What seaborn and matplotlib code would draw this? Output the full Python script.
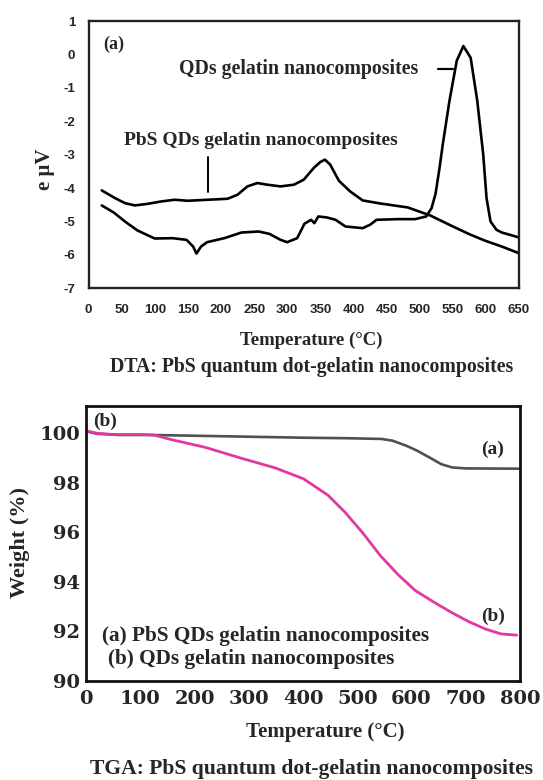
import matplotlib
matplotlib.use("Agg")
import matplotlib.pyplot as plt
import seaborn as sns
import pandas as pd

# ---------------- DATA ----------------
# DTA curves (Temperature in °C, signal in µV)
dta_pbs_t = [20, 40, 55, 70, 90, 110, 130, 150, 180, 210, 225, 240, 255, 270, 290, 310,
             325, 340, 350, 357, 365, 378, 395, 414, 440, 482, 516, 545, 575, 598, 624, 650]
dta_pbs_v = [-4.07, -4.3, -4.45, -4.52, -4.47, -4.4, -4.35, -4.38, -4.35, -4.32, -4.2, -3.95,
             -3.85, -3.9, -3.95, -3.9, -3.75, -3.4, -3.22, -3.15, -3.3, -3.78, -4.1, -4.37,
             -4.46, -4.58, -4.82, -5.1, -5.38, -5.57, -5.75, -5.95]

dta_qd_t = [20, 38, 55, 74, 100, 127, 148, 158, 163, 170, 179, 205, 231, 257, 273, 290, 300,
            315, 326, 336, 341, 347, 360, 373, 388, 414, 425, 435, 467, 493, 510, 518, 524,
            530, 535, 545, 556, 566, 577, 587, 596, 601, 607, 616, 624, 640, 650]
dta_qd_v = [-4.52, -4.73, -5.0, -5.27, -5.51, -5.5, -5.55, -5.75, -5.96, -5.75, -5.62, -5.5,
            -5.33, -5.3, -5.37, -5.55, -5.62, -5.5, -5.07, -4.95, -5.05, -4.85, -4.88, -4.95,
            -5.15, -5.2, -5.1, -4.95, -4.93, -4.93, -4.85, -4.6, -4.17, -3.4, -2.68, -1.39,
            -0.19, 0.25, -0.1, -1.39, -3.0, -4.3, -5.0, -5.25, -5.33, -5.42, -5.48]

dta_xticks = [0, 50, 100, 150, 200, 250, 300, 350, 400, 450, 500, 550, 600, 650]
dta_yticks = [1, 0, -1, -2, -3, -4, -5, -6, -7]

# TGA curves (Temperature in °C, weight in %)
tga_a_t = [0, 20, 60, 120, 200, 300, 400, 480, 545, 565, 590, 610, 635, 655, 675, 700, 800]
tga_a_w = [100.08, 99.98, 99.93, 99.93, 99.9, 99.86, 99.82, 99.8, 99.77, 99.7, 99.5, 99.3,
           99.0, 98.75, 98.62, 98.58, 98.57]

tga_b_t = [0, 20, 50, 100, 125, 156, 220, 285, 349, 401, 446, 478, 510, 543, 575, 607, 640,
           671, 705, 736, 765, 794]
tga_b_w = [100.1, 100.0, 99.95, 99.95, 99.93, 99.75, 99.43, 99.0, 98.6, 98.16, 97.5, 96.8,
           95.98, 95.05, 94.3, 93.65, 93.2, 92.8, 92.4, 92.1, 91.9, 91.85]

tga_xticks = [0, 100, 200, 300, 400, 500, 600, 700, 800]
tga_yticks = [90, 92, 94, 96, 98, 100]

# ---------------- STYLE ----------------
sns.set_style("white")
plt.rcParams['font.family'] = ['Liberation Serif', 'DejaVu Serif']
plt.rcParams['font.weight'] = 'bold'

SERIF = ['Liberation Serif', 'DejaVu Serif']
WIDE_SERIF = ['DejaVu Serif']
NARROW = ['Liberation Sans Narrow', 'Liberation Sans', 'DejaVu Sans']

W, H = 543, 780
fig = plt.figure(figsize=(W / 100, H / 100), dpi=100)
fig.patch.set_facecolor('white')


def box(l, t, r, b):
    return [l / W, 1 - b / H, (r - l) / W, (b - t) / H]


def fx(px):
    return px / W


def fy(py):
    return 1 - py / H


# ---------------- DTA ----------------
ax1 = fig.add_axes(box(88.5, 21, 519, 288.3))
df1 = pd.DataFrame({'T': dta_pbs_t, 'V': dta_pbs_v})
df2 = pd.DataFrame({'T': dta_qd_t, 'V': dta_qd_v})
sns.lineplot(data=df1, x='T', y='V', ax=ax1, color='black', lw=1.9, estimator=None, sort=False)
sns.lineplot(data=df2, x='T', y='V', ax=ax1, color='black', lw=1.9, estimator=None, sort=False)
ax1.set_xlim(0, 650)
ax1.set_ylim(-7, 1)
ax1.set_xticks(dta_xticks)
ax1.set_xticklabels([str(v) for v in dta_xticks], fontfamily=NARROW, fontweight='bold', fontsize=9.5)
ax1.set_yticks(dta_yticks)
ax1.set_yticklabels([str(v) for v in dta_yticks], fontfamily=NARROW, fontweight='bold', fontsize=9.5)
ax1.tick_params(axis='both', direction='out', length=2.5, width=1.2, color='#444')
ax1.tick_params(axis='x', pad=9)
ax1.tick_params(axis='y', pad=7)
for s in ax1.spines.values():
    s.set_linewidth(1.7)
    s.set_color('#222')
ax1.set_xlabel('Temperature (\u00b0C)', fontsize=13.5, fontweight='bold', fontfamily=SERIF)
ax1.xaxis.label.set_va('center')
ax1.xaxis.set_label_coords(fx(311), fy(340), transform=fig.transFigure)
ax1.set_ylabel('e \u03bcV', fontsize=15, fontweight='bold', fontfamily=SERIF)
ax1.yaxis.label.set_va('center')
ax1.yaxis.set_label_coords(fx(45), fy(169), transform=fig.transFigure)

ax1.text(22, 0.31, '(a)', fontsize=13, fontweight='bold', va='center', ha='left')
ax1.text(137, -0.43, 'QDs gelatin nanocomposites', fontsize=14.3, fontweight='bold',
         va='center', ha='left')
ax1.plot([527, 551], [-0.45, -0.45], color='black', lw=1.6)
ax1.text(53, -2.58, 'PbS QDs gelatin nanocomposites', fontsize=14, fontweight='bold',
         va='center', ha='left')
ax1.plot([180, 180], [-3.08, -4.13], color='black', lw=1.4)

fig.text(fx(311.5), fy(366.7), 'DTA: PbS quantum dot-gelatin nanocomposites', fontsize=14.2,
         fontweight='bold', ha='center', va='center')

# ---------------- TGA ----------------
ax2 = fig.add_axes(box(86, 406, 520, 681))
dfa = pd.DataFrame({'T': tga_a_t, 'W': tga_a_w})
dfb = pd.DataFrame({'T': tga_b_t, 'W': tga_b_w})
sns.lineplot(data=dfa, x='T', y='W', ax=ax2, color='#505050', lw=1.9, estimator=None, sort=False)
sns.lineplot(data=dfb, x='T', y='W', ax=ax2, color='#e0399f', lw=2.0, estimator=None, sort=False)
ax2.set_xlim(0, 800)
ax2.set_ylim(90, 101.1)
ax2.set_xticks(tga_xticks)
ax2.set_xticklabels([str(v) for v in tga_xticks], fontsize=14, fontweight='bold',
                    fontfamily=WIDE_SERIF)
ax2.set_yticks(tga_yticks)
ax2.set_yticklabels([str(v) for v in tga_yticks], fontsize=14, fontweight='bold',
                    fontfamily=WIDE_SERIF)
ax2.tick_params(axis='both', direction='inout', length=5, width=1.4, color='#333')
ax2.tick_params(axis='x', pad=4)
ax2.tick_params(axis='y', pad=1.5)
for s in ax2.spines.values():
    s.set_linewidth(2.0)
    s.set_color('#111')
ax2.set_xlabel('Temperature (\u00b0C)', fontsize=15, fontweight='bold')
ax2.xaxis.label.set_va('center')
ax2.xaxis.set_label_coords(fx(325), fy(731.7), transform=fig.transFigure)
ax2.set_ylabel('Weight (%)', fontsize=16, fontweight='bold')
ax2.yaxis.label.set_va('center')
ax2.yaxis.set_label_coords(fx(20), fy(543), transform=fig.transFigure)

ax2.text(14, 100.5, '(b)', fontsize=14, fontweight='bold', va='center', ha='left')
ax2.text(728, 99.35, '(a)', fontsize=14, fontweight='bold', va='center', ha='left')
ax2.text(728, 92.6, '(b)', fontsize=14, fontweight='bold', va='center', ha='left')
ax2.text(30, 91.8, '(a) PbS QDs gelatin nanocomposites', fontsize=15.3, fontweight='bold',
         va='center', ha='left')
ax2.text(40, 90.9, '(b) QDs gelatin nanocomposites', fontsize=15.3, fontweight='bold',
         va='center', ha='left')

fig.text(fx(312), fy(769), 'TGA: PbS quantum dot-gelatin nanocomposites', fontsize=15.6,
         fontweight='bold', ha='center', va='center')

fig.savefig('out.png', dpi=100, facecolor='white')
